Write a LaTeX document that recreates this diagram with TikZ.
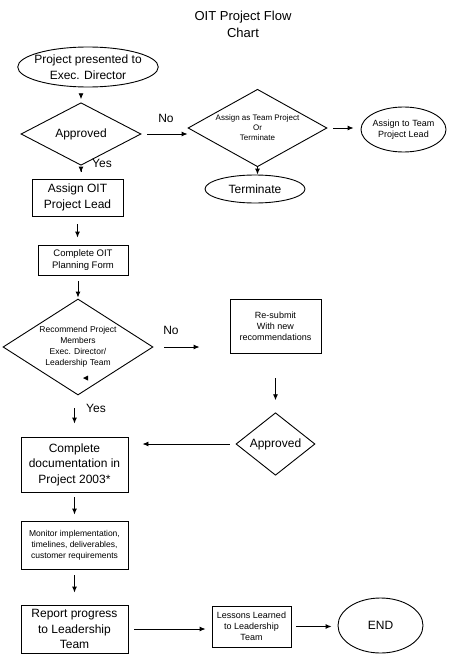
\documentclass[tikz,border=0pt]{standalone}
\usepackage{fontspec}
\setmainfont{Liberation Sans}
\usetikzlibrary{shapes.geometric,arrows.meta}

\begin{document}
\begin{tikzpicture}[
  x=1pt, y=-1pt,
  base/.style={draw, line width=0.9pt, inner sep=0pt, align=center},
  box/.style={base, rectangle},
  decision/.style={base, diamond},
  oval/.style={base, ellipse},
  bigtxt/.style={font=\fontsize{12}{15.5}\selectfont},
  smalltxt/.style={font=\fontsize{9}{11}\selectfont},
  arrow/.style={-{Latex[length=6pt,width=5pt]}, line width=0.9pt}
]
\useasboundingbox (0,0) rectangle (451,661);

% Title
\node[font=\fontsize{13}{17}\selectfont, align=center] (title) at (243,24) {OIT Project Flow\\Chart};

% Top part
\node[oval, bigtxt, inner sep=-4pt, minimum width=140pt, minimum height=40pt] (proj) at (88,67) {Project presented to\\Exec. Director};
\node[decision, bigtxt, minimum width=120pt, minimum height=42pt] (appr) at (81,134) {Approved};
\node[box, bigtxt, minimum width=91pt, minimum height=37pt] (lead) at (77.5,197.5) {Assign OIT\\Project Lead};
\node[decision, font=\fontsize{8}{10}\selectfont, inner sep=-8pt, minimum width=139pt, minimum height=54pt] (team) at (257.5,128) {Assign as Team Project\\Or\\Terminate};
\node[oval, smalltxt, inner sep=-2pt, minimum width=85pt, minimum height=45pt] (teamlead) at (403.5,129.5) {Assign to Team\\Project Lead};
\node[oval, bigtxt, minimum width=100pt, minimum height=28pt] (terminate) at (255,189) {Terminate};

% Middle part
\node[box, font=\fontsize{9.5}{12}\selectfont, minimum width=90pt, minimum height=30pt] (plan) at (83,260) {Complete OIT\\Planning Form};
\node[decision, font=\fontsize{8.5}{11}\selectfont, aspect=1.56, minimum width=150pt, minimum height=96pt] (rec) at (78,347) {Recommend Project\\Members\\Exec. Director/\\Leadership Team};
\node[box, smalltxt, minimum width=91pt, minimum height=54pt] (resub) at (275.5,326) {Re-submit\\With new\\recommendations};
\node[decision, bigtxt, minimum width=79pt, minimum height=48pt] (appr2) at (275.5,444) {Approved};

% Bottom part
\node[box, bigtxt, minimum width=107pt, minimum height=55pt] (doc) at (74.5,464.5) {Complete\\documentation in\\Project 2003*};
\node[box, font=\fontsize{8.5}{11}\selectfont, minimum width=107pt, minimum height=48pt] (mon) at (74.5,545) {Monitor implementation,\\timelines, deliverables,\\customer requirements};
\node[box, bigtxt, minimum width=107pt, minimum height=48pt] (report) at (74.5,629) {Report progress\\to Leadership\\Team};
\node[box, smalltxt, minimum width=79pt, minimum height=41pt] (lessons) at (251.5,626.5) {Lessons Learned\\to Leadership\\Team};
\node[oval, bigtxt, minimum width=85pt, minimum height=55pt] (endn) at (380.5,625.5) {END};

% Arrows
\draw[arrow, shorten <=9pt, shorten >=3pt] (proj.south -| appr.north) -- (appr.north);
\draw[arrow, shorten <=6pt, shorten >=6pt] (appr.south) -- (appr.south |- lead.north);
\draw[arrow, shorten <=6pt] (appr.east) -- (appr.east -| team.west);
\draw[arrow, shorten <=6pt, shorten >=7pt] (team.east) -- (team.east -| teamlead.west);
\draw[arrow] (team.south) -- (team.south |- terminate.north);
\draw[arrow, shorten <=8pt, shorten >=7pt] (lead.south) -- (lead.south |- plan.north);
\draw[arrow, shorten <=6pt, shorten >=1pt] (rec.north |- plan.south) -- (rec.north);
\draw[arrow, shorten <=11pt, shorten >=30pt] (rec.east) -- (rec.east -| resub.west);
\draw[arrow, shorten <=25pt, shorten >=12pt] (resub.south) -- (appr2.north);
\draw[arrow, shorten <=13pt, shorten >=13pt] (rec.south -| doc.north) -- (doc.north);
\draw[arrow, shorten <=6pt, shorten >=14pt] (appr2.west) -- (appr2.west -| doc.east);
\draw[arrow, shorten <=5pt, shorten >=6pt] (doc) -- (mon);
\draw[arrow, shorten <=6pt, shorten >=12pt] (mon) -- (report);
\draw[arrow, shorten <=6pt, shorten >=6pt] (report.east) -- (report.east -| lessons.west);
\draw[arrow, shorten <=5pt, shorten >=6pt] (lessons.east) -- (lessons.east -| endn.west);

% Labels
\node[bigtxt] (no1) at (166,118) {No};
\node[bigtxt] (yes1) at (102,163) {Yes};
\node[bigtxt] (no2) at (171,330) {No};
\node[bigtxt] (yes2) at (96,408) {Yes};

% small mark in the decision
\fill (88,375.5) -- (83,378) -- (88,380.5) -- cycle;

\end{tikzpicture}
\end{document}
